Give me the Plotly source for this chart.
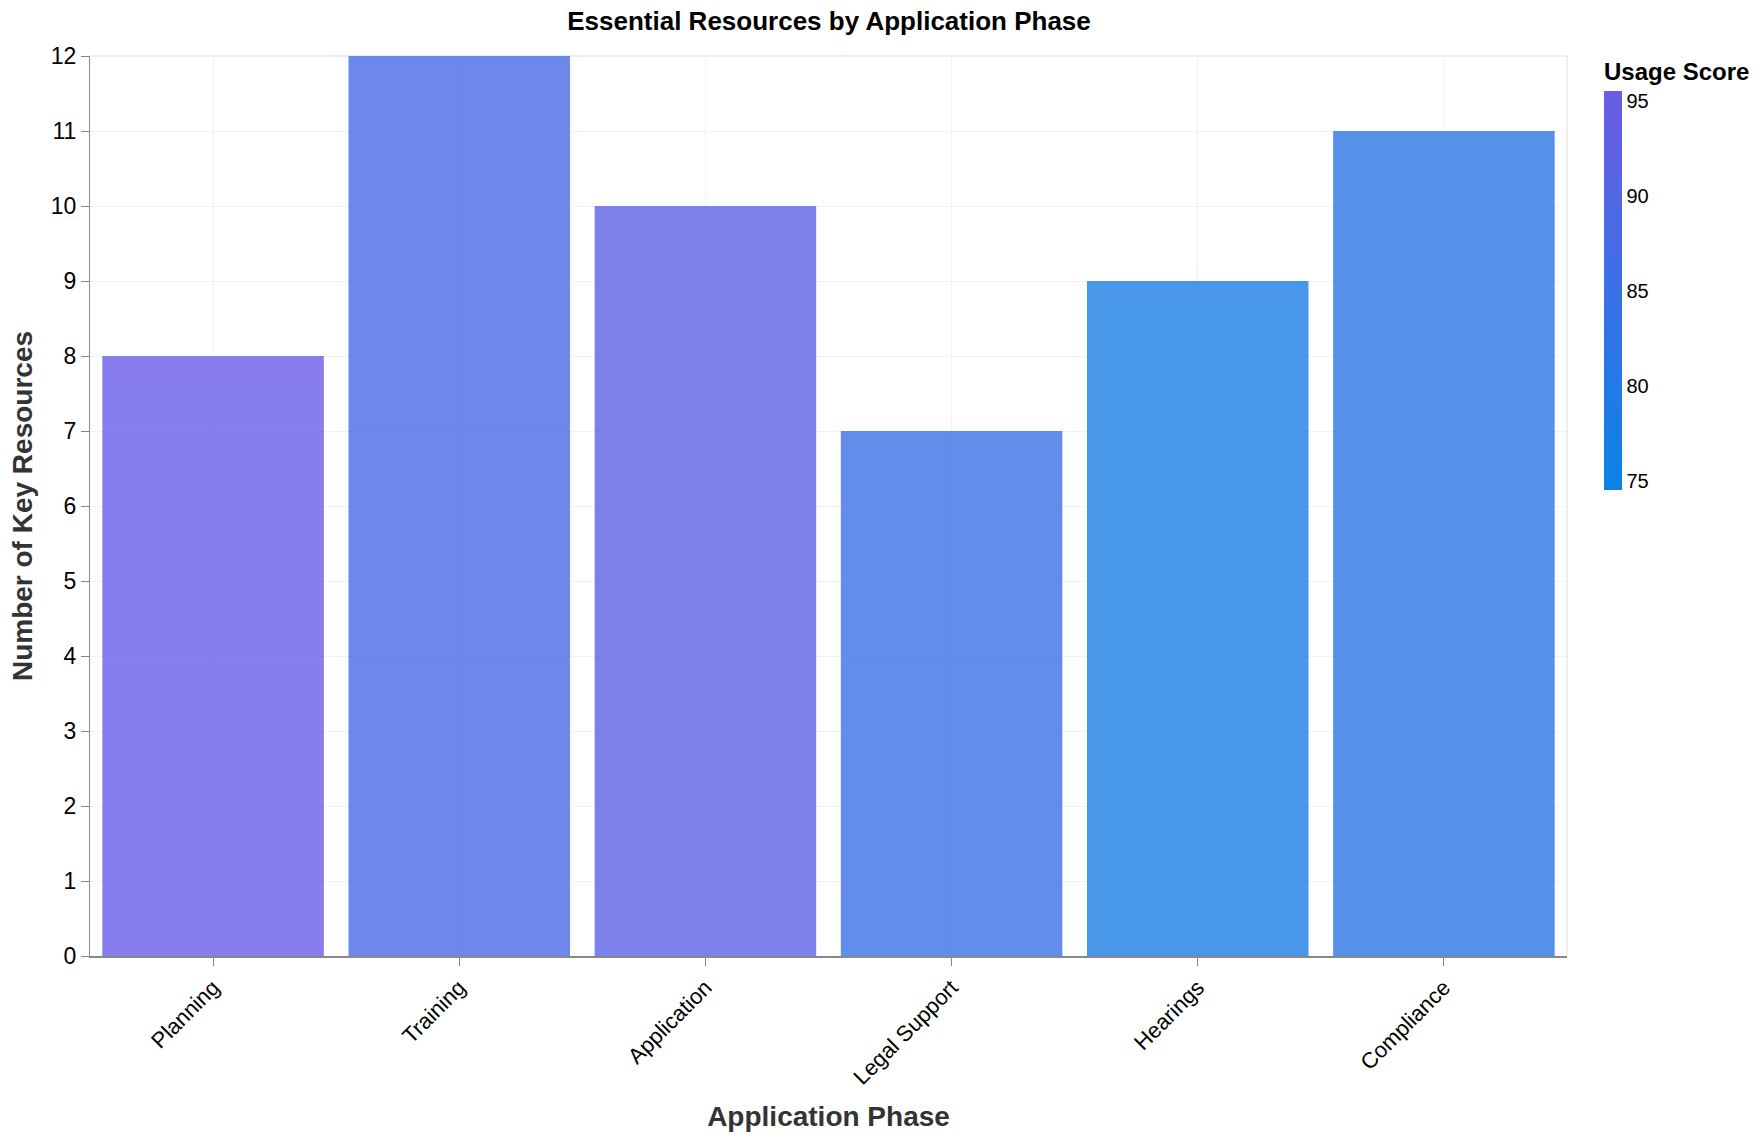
import plotly.graph_objects as go

phases = ["Planning", "Training", "Application", "Legal Support", "Hearings", "Compliance"]
resources = [8, 12, 10, 7, 9, 11]
usage_score = [95, 88, 92, 85, 78, 82]

W, H = 1760, 1138
ml, mr, mt, mb = 90, 192, 56, 182
plot_h = H - mt - mb
FONT = "Liberation Sans, Arial, sans-serif"

fig = go.Figure(
    go.Bar(
        x=phases,
        y=resources,
        marker=dict(
            color=usage_score,
            colorscale=[[0, "#0984e3"], [1, "#6c5ce7"]],
            cmin=74.5,
            cmax=95.5,
            opacity=0.8,
            line=dict(width=0),
            colorbar=dict(
                title=dict(text="<b>Usage Score</b>", side="top",
                           font=dict(size=24, color="#000", family=FONT)),
                x=(1604 - ml) / (W - ml - mr), xanchor="left", xpad=0,
                y=(H - mb - 59) / plot_h, yanchor="top", ypad=0,
                len=431, lenmode="pixels",
                thickness=18,
                outlinewidth=0,
                tickvals=[75, 80, 85, 90, 95],
                ticks="",
                tickfont=dict(size=20, color="#000", family=FONT),
            ),
        ),
        hovertemplate="%{x}: %{y}<extra></extra>",
    )
)

fig.update_layout(
    width=W,
    height=H,
    margin=dict(l=ml, r=mr, t=mt, b=mb),
    paper_bgcolor="white",
    plot_bgcolor="white",
    bargap=0.1,
    font=dict(family=FONT, color="#000"),
    title=dict(
        text="<b>Essential Resources by Application Phase</b>",
        x=(ml + (W - ml - mr) / 2) / W,
        xanchor="center",
        y=1 - 21 / H,
        yanchor="middle",
        font=dict(size=26, color="#000"),
    ),
    xaxis=dict(
        title=dict(text="<b>Application Phase</b>", font=dict(size=28, color="#333"), standoff=18),
        tickangle=-45,
        tickfont=dict(size=22, color="#000"),
        showgrid=True,
        gridcolor="#f2f2f2",
        showline=True,
        linecolor="#888",
        linewidth=2,
        ticks="outside",
        ticklen=8,
        tickcolor="#888",
    ),
    yaxis=dict(
        title=dict(text="<b>Number of Key Resources</b>", font=dict(size=28, color="#333"), standoff=10),
        range=[0, 12],
        dtick=1,
        tickfont=dict(size=23, color="#000"),
        showgrid=True,
        gridcolor="#f2f2f2",
        showline=True,
        linecolor="#888",
        linewidth=1,
        ticks="outside",
        ticklen=8,
        tickcolor="#888",
        zeroline=False,
    ),
    shapes=[
        dict(type="line", xref="paper", yref="paper", x0=0, x1=1, y0=1, y1=1,
             line=dict(color="#ddd", width=1), layer="below"),
        dict(type="line", xref="paper", yref="paper", x0=1, x1=1, y0=0, y1=1,
             line=dict(color="#ddd", width=1), layer="below"),
    ],
)

fig.write_html("out.html")
